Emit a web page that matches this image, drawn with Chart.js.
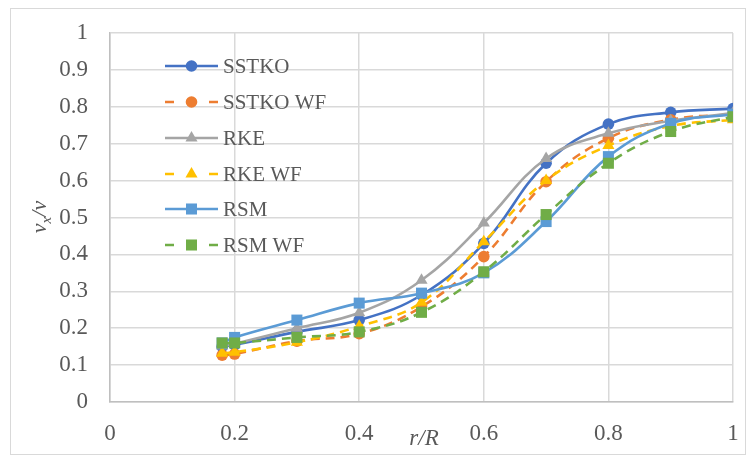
<!DOCTYPE html>
<html>
<head>
<meta charset="utf-8">
<script src="https://cdn.jsdelivr.net/npm/chart.js@4/dist/chart.umd.min.js"></script>
<style>
  html, body { margin: 0; padding: 0; background: #fff; }
  #wrap { width: 750px; height: 457px; position: relative; }
</style>
</head>
<body>
<div id="wrap"><canvas id="c" width="750" height="457"></canvas></div>
<script>
// ---- data ----
const rR = [0.18, 0.2, 0.3, 0.4, 0.5, 0.6, 0.7, 0.8, 0.9, 1.0];
const seriesNames = ["SSTKO", "SSTKO WF", "RKE", "RKE WF", "RSM", "RSM WF"];
const sstko   = [0.150, 0.155, 0.190, 0.222, 0.290, 0.430, 0.647, 0.753, 0.785, 0.795];
const sstkoWF = [0.127, 0.130, 0.165, 0.185, 0.258, 0.394, 0.597, 0.715, 0.765, 0.780];
const rke     = [0.152, 0.158, 0.200, 0.242, 0.330, 0.485, 0.660, 0.728, 0.762, 0.783];
const rkeWF   = [0.132, 0.135, 0.162, 0.205, 0.270, 0.434, 0.600, 0.695, 0.748, 0.765];
const rsm     = [0.160, 0.175, 0.222, 0.268, 0.295, 0.350, 0.489, 0.665, 0.755, 0.780];
const rsmWF   = [0.160, 0.160, 0.175, 0.190, 0.243, 0.353, 0.508, 0.647, 0.733, 0.773];
const xTicks = [0, 0.2, 0.4, 0.6, 0.8, 1];
const yTicks = [0, 0.1, 0.2, 0.3, 0.4, 0.5, 0.6, 0.7, 0.8, 0.9, 1];

const allSeries = [sstko, sstkoWF, rke, rkeWF, rsm, rsmWF];
const colors = ["#4472C4", "#ED7D31", "#A5A5A5", "#FFC000", "#5B9BD5", "#70AD47"];
const markers = ["circle", "circle", "triangle", "triangle", "rect", "rect"];
const dashed = [false, true, false, true, false, true];
const radii = { circle: 5.8, triangle: 7, rect: 7.8 };

const FONT = "'Liberation Serif', 'Times New Roman', serif";
const TXT = "#595959";

const datasets = allSeries.map((vals, i) => ({
  label: seriesNames[i],
  data: rR.map((x, k) => ({ x: x, y: vals[k] })),
  borderColor: colors[i],
  backgroundColor: colors[i],
  borderWidth: 2.6,
  borderDash: dashed[i] ? [9, 6] : [],
  pointStyle: markers[i],
  pointRadius: radii[markers[i]],
  pointBorderWidth: 0,
  pointBorderColor: colors[i],
  pointBackgroundColor: colors[i],
  tension: 0.4,
  fill: false,
  order: 6 - i
}));

function drawMarker(ctx, type, cx, cy, r, color) {
  ctx.fillStyle = color;
  ctx.beginPath();
  if (type === "circle") { ctx.arc(cx, cy, r, 0, Math.PI * 2); }
  else if (type === "rect") { const s = r * Math.SQRT1_2; ctx.rect(cx - s, cy - s, 2 * s, 2 * s); }
  else {
    ctx.moveTo(cx, cy - r); ctx.lineTo(cx + r * 0.866, cy + r * 0.5); ctx.lineTo(cx - r * 0.866, cy + r * 0.5); ctx.closePath();
  }
  ctx.fill();
}

const decor = {
  id: "decor",
  beforeDraw(chart) {
    const ctx = chart.ctx;
    ctx.save();
    ctx.fillStyle = "#fff";
    ctx.fillRect(0, 0, chart.width, chart.height);
    ctx.strokeStyle = "#D9D9D9";
    ctx.lineWidth = 1;
    ctx.strokeRect(10.5, 8.5, 735, 446);
    ctx.restore();
  },
  afterDraw(chart) {
    const ctx = chart.ctx;
    ctx.save();
    // legend
    const lx = 165, lw = 53, tx = 223;
    const rows = [66, 102, 138, 174, 209, 245];
    ctx.font = "21px " + FONT;
    ctx.textBaseline = "middle";
    chart.data.datasets.forEach((ds, i) => {
      const y = rows[i];
      ctx.strokeStyle = colors[i];
      ctx.lineWidth = 2.6;
      ctx.beginPath();
      if (dashed[i]) {
        ctx.moveTo(lx, y); ctx.lineTo(lx + 9, y);
        ctx.moveTo(lx + lw - 9, y); ctx.lineTo(lx + lw, y);
      } else {
        ctx.moveTo(lx, y); ctx.lineTo(lx + lw, y);
      }
      ctx.stroke();
      drawMarker(ctx, markers[i], lx + lw / 2, y, radii[markers[i]], colors[i]);
      ctx.fillStyle = TXT;
      ctx.textAlign = "left";
      ctx.fillText(ds.label, tx, y + 1);
    });
    // x axis title
    ctx.font = "italic 23px " + FONT;
    ctx.fillStyle = TXT;
    ctx.textAlign = "center";
    ctx.textBaseline = "middle";
    ctx.fillText("r/R", 424, 439);
    // y axis title with subscript
    ctx.translate(41, 217);
    ctx.rotate(-Math.PI / 2);
    const big = "italic 22px " + FONT, small = "italic 15px " + FONT;
    ctx.font = big; const w1 = ctx.measureText("v").width;
    ctx.font = small; const w2 = ctx.measureText("x").width;
    ctx.font = big; const w3 = ctx.measureText("/v").width;
    let x0 = -(w1 + w2 + w3) / 2;
    ctx.textAlign = "left";
    ctx.textBaseline = "alphabetic";
    ctx.font = big; ctx.fillText("v", x0, 5);
    ctx.font = small; ctx.fillText("x", x0 + w1, 10);
    ctx.font = big; ctx.fillText("/v", x0 + w1 + w2, 5);
    ctx.restore();
  }
};

new Chart(document.getElementById("c"), {
  type: "line",
  data: { datasets: datasets },
  options: {
    responsive: false,
    animation: false,
    devicePixelRatio: 1,
    layout: { padding: { left: 0, right: 17, top: 33, bottom: 0 } },
    plugins: { legend: { display: false }, tooltip: { enabled: false } },
    scales: {
      x: {
        type: "linear", min: 0, max: 1,
        afterBuildTicks(s) { s.ticks = xTicks.map(v => ({ value: v })); },
        afterFit(s) { s.height = 55; s.paddingLeft = 0; s.paddingRight = 0; },
        grid: { color: "#D9D9D9", lineWidth: 1.5, drawTicks: false },
        border: { color: "#BFBFBF", width: 1.5 },
        ticks: {
          padding: 18, color: TXT, font: { family: FONT, size: 23 },
          maxRotation: 0,
          callback: v => String(Math.round(v * 10) / 10)
        }
      },
      y: {
        type: "linear", min: 0, max: 1,
        afterBuildTicks(s) { s.ticks = yTicks.map(v => ({ value: v })); },
        afterFit(s) { s.width = 110; s.paddingTop = 0; s.paddingBottom = 0; },
        grid: { color: "#D9D9D9", lineWidth: 1.5, drawTicks: false },
        border: { color: "#BFBFBF", width: 1.5 },
        ticks: {
          padding: 22, color: TXT, font: { family: FONT, size: 23 },
          callback: v => String(Math.round(v * 10) / 10)
        }
      }
    }
  },
  plugins: [decor]
});
</script>
</body>
</html>
